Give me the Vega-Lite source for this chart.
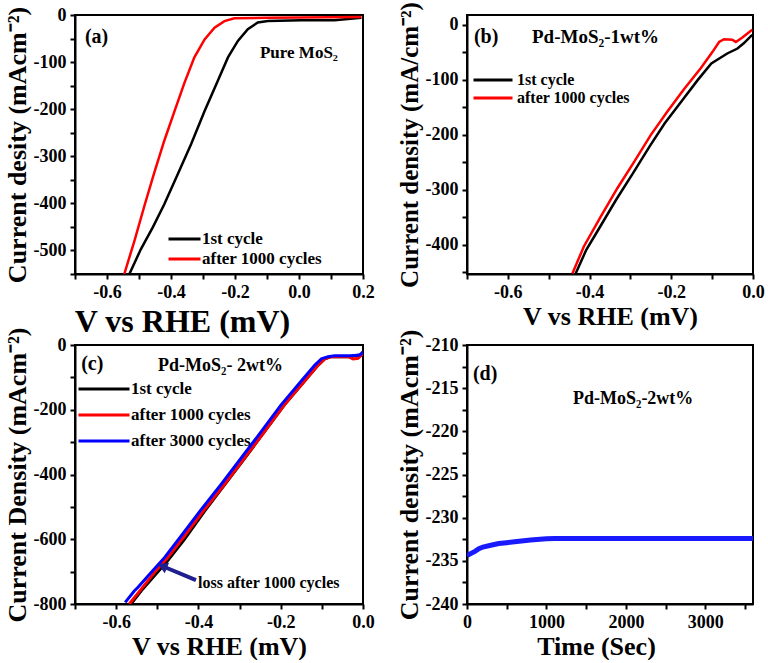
{
  "$schema": "https://vega.github.io/schema/vega-lite/v6.json",
  "background": "white",
  "padding": {"left": 3, "top": 0, "right": 5, "bottom": 0},
  "columns": 2,
  "spacing": {"row": 71, "column": 104},
  "bounds": "flush",
  "resolve": {"scale": {"color": "independent"}, "legend": {"color": "independent"}},
  "config": {
    "font": "Liberation Serif",
    "view": {"stroke": "black", "strokeWidth": 2},
    "axis": {
      "grid": false, "domainColor": "black", "domainWidth": 2,
      "tickColor": "black", "tickWidth": 2, "tickSize": 5,
      "labelFont": "Liberation Serif", "labelFontWeight": "bold", "labelFontSize": 18, "labelColor": "black",
      "labelPadding": 4, "labelFlush": false, "labelOverlap": false, "labelBound": false,
      "titleFont": "Liberation Serif", "titleFontWeight": "bold", "titleFontSize": 26, "titleColor": "black"
    },
    "legend": {
      "orient": "none", "title": null, "symbolType": "stroke", "symbolStrokeWidth": 3,
      "labelFont": "Liberation Serif", "labelFontWeight": "bold", "labelFontSize": 17, "labelColor": "black",
      "labelOffset": 0, "padding": 0, "rowPadding": 0
    },
    "text": {"font": "Liberation Serif", "fontWeight": "bold", "align": "left", "baseline": "middle", "color": "black"}
  },
  "concat": [
    {
      "width": 288, "height": 259,
      "encoding": {
        "x": {"field": "v", "type": "quantitative", "scale": {"domain": [-0.7, 0.2], "nice": false, "zero": false},
          "axis": {"title": "V vs RHE (mV)", "titleFontSize": 32, "titleX": 107, "titlePadding": 5, "labelOverlap": false,
            "values": [-0.7,-0.6,-0.5,-0.4,-0.3,-0.2,-0.1,0,0.1,0.2], "format": ".1f",
            "labelExpr": "abs(round(datum.value*10)) % 2 == 0 ? replace(datum.label, '−', '-') : ''"}},
        "y": {"field": "j", "type": "quantitative", "scale": {"domain": [-550, 0], "nice": false, "zero": false},
          "axis": {"title": "Current desity (mAcm⁻²)", "titlePadding": 3, "labelOverlap": false,
            "values": [0,-50,-100,-150,-200,-250,-300,-350,-400,-450,-500,-550],
            "labelExpr": "datum.value % 100 == 0 ? replace(datum.label, '−', '-') : ''"}}
      },
      "layer": [
        {
          "data": {"values": [
            {"series": "1st cycle", "v": -0.530, "j": -550},
            {"series": "1st cycle", "v": -0.494, "j": -497},
            {"series": "1st cycle", "v": -0.457, "j": -451},
            {"series": "1st cycle", "v": -0.421, "j": -402},
            {"series": "1st cycle", "v": -0.379, "j": -338},
            {"series": "1st cycle", "v": -0.337, "j": -274},
            {"series": "1st cycle", "v": -0.295, "j": -204},
            {"series": "1st cycle", "v": -0.254, "j": -140},
            {"series": "1st cycle", "v": -0.222, "j": -90},
            {"series": "1st cycle", "v": -0.191, "j": -55},
            {"series": "1st cycle", "v": -0.160, "j": -30},
            {"series": "1st cycle", "v": -0.129, "j": -16},
            {"series": "1st cycle", "v": -0.097, "j": -13},
            {"series": "1st cycle", "v": 0.007, "j": -11},
            {"series": "1st cycle", "v": 0.111, "j": -11},
            {"series": "1st cycle", "v": 0.195, "j": -6},
            {"series": "after 1000 cycles", "v": -0.546, "j": -550},
            {"series": "after 1000 cycles", "v": -0.514, "j": -479},
            {"series": "after 1000 cycles", "v": -0.483, "j": -405},
            {"series": "after 1000 cycles", "v": -0.452, "j": -334},
            {"series": "after 1000 cycles", "v": -0.421, "j": -267},
            {"series": "after 1000 cycles", "v": -0.389, "j": -204},
            {"series": "after 1000 cycles", "v": -0.358, "j": -144},
            {"series": "after 1000 cycles", "v": -0.327, "j": -90},
            {"series": "after 1000 cycles", "v": -0.295, "j": -52},
            {"series": "after 1000 cycles", "v": -0.264, "j": -27},
            {"series": "after 1000 cycles", "v": -0.233, "j": -13},
            {"series": "after 1000 cycles", "v": -0.202, "j": -7},
            {"series": "after 1000 cycles", "v": -0.097, "j": -6},
            {"series": "after 1000 cycles", "v": 0.195, "j": -4}
          ]},
          "mark": {"type": "line", "strokeWidth": 2.5, "clip": true},
          "encoding": {
            "color": {"field": "series", "type": "nominal", "scale": {"domain": ["1st cycle", "after 1000 cycles"], "range": ["#000000", "#ff0000"]},
              "legend": {"legendX": 92, "legendY": 214, "symbolSize": 1024, "clipHeight": 20}}
          }
        },
        {
          "data": {"values": [{"v": -0.669, "j": -47, "label": "(a)"}]},
          "mark": {"type": "text", "fontSize": 20},
          "encoding": {"text": {"field": "label"}}
        },
        {
          "data": {"values": [{"v": -0.122, "j": -81, "label": "Pure MoS₂"}]},
          "mark": {"type": "text", "fontSize": 17},
          "encoding": {"text": {"field": "label"}}
        }
      ]
    },
    {
      "width": 286, "height": 259,
      "encoding": {
        "x": {"field": "v", "type": "quantitative", "scale": {"domain": [-0.7, 0], "nice": false, "zero": false},
          "axis": {"title": "V vs RHE (mV)", "titlePadding": 2, "labelOverlap": false,
            "values": [-0.7,-0.6,-0.5,-0.4,-0.3,-0.2,-0.1,0], "format": ".1f",
            "labelExpr": "abs(round(datum.value*10)) % 2 == 0 ? replace(datum.label, '−', '-') : ''"}},
        "y": {"field": "j", "type": "quantitative", "scale": {"domain": [-453, 18], "nice": false, "zero": false},
          "axis": {"title": "Current density (mA/cm⁻²)", "titleFontSize": 25, "titlePadding": 3, "labelOverlap": false,
            "values": [0,-50,-100,-150,-200,-250,-300,-350,-400,-450],
            "labelExpr": "datum.value % 100 == 0 ? replace(datum.label, '−', '-') : ''"}}
      },
      "layer": [
        {
          "data": {"values": [
            {"series": "1st cycle", "v": -0.434, "j": -452},
            {"series": "1st cycle", "v": -0.408, "j": -409},
            {"series": "1st cycle", "v": -0.379, "j": -373},
            {"series": "1st cycle", "v": -0.335, "j": -318},
            {"series": "1st cycle", "v": -0.294, "j": -270},
            {"series": "1st cycle", "v": -0.253, "j": -221},
            {"series": "1st cycle", "v": -0.216, "j": -179},
            {"series": "1st cycle", "v": -0.173, "j": -137},
            {"series": "1st cycle", "v": -0.135, "j": -100},
            {"series": "1st cycle", "v": -0.102, "j": -70},
            {"series": "1st cycle", "v": -0.063, "j": -52},
            {"series": "1st cycle", "v": -0.038, "j": -43},
            {"series": "1st cycle", "v": -0.022, "j": -33},
            {"series": "1st cycle", "v": -0.002, "j": -18},
            {"series": "after 1000 cycles", "v": -0.442, "j": -452},
            {"series": "after 1000 cycles", "v": -0.414, "j": -403},
            {"series": "after 1000 cycles", "v": -0.373, "j": -349},
            {"series": "after 1000 cycles", "v": -0.332, "j": -297},
            {"series": "after 1000 cycles", "v": -0.291, "j": -249},
            {"series": "after 1000 cycles", "v": -0.250, "j": -200},
            {"series": "after 1000 cycles", "v": -0.210, "j": -158},
            {"series": "after 1000 cycles", "v": -0.169, "j": -117},
            {"series": "after 1000 cycles", "v": -0.128, "j": -79},
            {"series": "after 1000 cycles", "v": -0.099, "j": -49},
            {"series": "after 1000 cycles", "v": -0.083, "j": -31},
            {"series": "after 1000 cycles", "v": -0.071, "j": -26},
            {"series": "after 1000 cycles", "v": -0.051, "j": -27},
            {"series": "after 1000 cycles", "v": -0.042, "j": -31},
            {"series": "after 1000 cycles", "v": -0.026, "j": -23},
            {"series": "after 1000 cycles", "v": -0.002, "j": -9}
          ]},
          "mark": {"type": "line", "strokeWidth": 2.5, "clip": true},
          "encoding": {
            "color": {"field": "series", "type": "nominal", "scale": {"domain": ["1st cycle", "after 1000 cycles"], "range": ["#000000", "#ff0000"]},
              "legend": {"legendX": 5, "legendY": 56, "symbolSize": 1521, "clipHeight": 18, "labelFontSize": 16, "labelOffset": 3}}
          }
        },
        {
          "data": {"values": [{"v": -0.683, "j": -22, "label": "(b)"}]},
          "mark": {"type": "text", "fontSize": 20},
          "encoding": {"text": {"field": "label"}}
        },
        {
          "data": {"values": [{"v": -0.541, "j": -22, "label": "Pd-MoS₂-1wt%"}]},
          "mark": {"type": "text", "fontSize": 19},
          "encoding": {"text": {"field": "label"}}
        }
      ]
    },
    {
      "width": 288, "height": 259,
      "encoding": {
        "x": {"field": "v", "type": "quantitative", "scale": {"domain": [-0.7, 0], "nice": false, "zero": false},
          "axis": {"title": "V vs RHE (mV)", "titlePadding": 2, "labelOverlap": false,
            "values": [-0.7,-0.6,-0.5,-0.4,-0.3,-0.2,-0.1,0], "format": ".1f",
            "labelExpr": "abs(round(datum.value*10)) % 2 == 0 ? replace(datum.label, '−', '-') : ''"}},
        "y": {"field": "j", "type": "quantitative", "scale": {"domain": [-800, 0], "nice": false, "zero": false},
          "axis": {"title": "Current Density (mAcm⁻²)", "titlePadding": 3, "labelOverlap": false,
            "values": [0,-100,-200,-300,-400,-500,-600,-700,-800],
            "labelExpr": "datum.value % 200 == 0 ? replace(datum.label, '−', '-') : ''"}}
      },
      "layer": [
        {
          "data": {"values": [
            {"series": "1st cycle", "v": -0.564, "j": -800},
            {"series": "1st cycle", "v": -0.539, "j": -759},
            {"series": "1st cycle", "v": -0.507, "j": -713},
            {"series": "1st cycle", "v": -0.474, "j": -665},
            {"series": "1st cycle", "v": -0.434, "j": -600},
            {"series": "1st cycle", "v": -0.385, "j": -513},
            {"series": "1st cycle", "v": -0.337, "j": -433},
            {"series": "1st cycle", "v": -0.288, "j": -351},
            {"series": "1st cycle", "v": -0.239, "j": -267},
            {"series": "1st cycle", "v": -0.191, "j": -185},
            {"series": "1st cycle", "v": -0.142, "j": -111},
            {"series": "1st cycle", "v": -0.109, "j": -62},
            {"series": "1st cycle", "v": -0.093, "j": -43},
            {"series": "1st cycle", "v": -0.077, "j": -36},
            {"series": "1st cycle", "v": -0.036, "j": -36},
            {"series": "1st cycle", "v": 0.0, "j": -29},
            {"series": "after 1000 cycles", "v": -0.568, "j": -800},
            {"series": "after 1000 cycles", "v": -0.539, "j": -754},
            {"series": "after 1000 cycles", "v": -0.507, "j": -703},
            {"series": "after 1000 cycles", "v": -0.474, "j": -656},
            {"series": "after 1000 cycles", "v": -0.434, "j": -590},
            {"series": "after 1000 cycles", "v": -0.385, "j": -508},
            {"series": "after 1000 cycles", "v": -0.337, "j": -431},
            {"series": "after 1000 cycles", "v": -0.288, "j": -349},
            {"series": "after 1000 cycles", "v": -0.239, "j": -267},
            {"series": "after 1000 cycles", "v": -0.191, "j": -185},
            {"series": "after 1000 cycles", "v": -0.142, "j": -111},
            {"series": "after 1000 cycles", "v": -0.109, "j": -62},
            {"series": "after 1000 cycles", "v": -0.093, "j": -43},
            {"series": "after 1000 cycles", "v": -0.077, "j": -36},
            {"series": "after 1000 cycles", "v": -0.036, "j": -36},
            {"series": "after 1000 cycles", "v": -0.024, "j": -43},
            {"series": "after 1000 cycles", "v": -0.012, "j": -41},
            {"series": "after 1000 cycles", "v": 0.0, "j": -26},
            {"series": "after 3000 cycles", "v": -0.578, "j": -795},
            {"series": "after 3000 cycles", "v": -0.556, "j": -760},
            {"series": "after 3000 cycles", "v": -0.548, "j": -750},
            {"series": "after 3000 cycles", "v": -0.515, "j": -703},
            {"series": "after 3000 cycles", "v": -0.482, "j": -656},
            {"series": "after 3000 cycles", "v": -0.442, "j": -590},
            {"series": "after 3000 cycles", "v": -0.393, "j": -508},
            {"series": "after 3000 cycles", "v": -0.345, "j": -431},
            {"series": "after 3000 cycles", "v": -0.296, "j": -349},
            {"series": "after 3000 cycles", "v": -0.247, "j": -267},
            {"series": "after 3000 cycles", "v": -0.199, "j": -185},
            {"series": "after 3000 cycles", "v": -0.150, "j": -111},
            {"series": "after 3000 cycles", "v": -0.117, "j": -62},
            {"series": "after 3000 cycles", "v": -0.101, "j": -43},
            {"series": "after 3000 cycles", "v": -0.085, "j": -36},
            {"series": "after 3000 cycles", "v": -0.069, "j": -33},
            {"series": "after 3000 cycles", "v": -0.028, "j": -33},
            {"series": "after 3000 cycles", "v": -0.008, "j": -31},
            {"series": "after 3000 cycles", "v": 0.0, "j": -21}
          ]},
          "mark": {"type": "line", "strokeWidth": 3, "clip": true},
          "encoding": {
            "color": {"field": "series", "type": "nominal", "scale": {"domain": ["1st cycle", "after 1000 cycles", "after 3000 cycles"], "range": ["#000000", "#ff0000", "#0000ff"]},
              "legend": {"legendX": 2, "legendY": 31, "symbolSize": 2601, "clipHeight": 26}}
          }
        },
        {
          "data": {"values": [{"v": -0.406, "j": -726, "v2": -0.484, "j2": -685}]},
          "mark": {"type": "rule", "strokeWidth": 4, "color": "#1f1f8f"},
          "encoding": {"x2": {"field": "v2"}, "y2": {"field": "j2"}}
        },
        {
          "data": {"values": [{"v": -0.484, "j": -685}]},
          "mark": {"type": "point", "shape": "triangle", "filled": true, "size": 130, "angle": 292, "color": "#1f1f8f", "opacity": 1},
          "encoding": {}
        },
        {
          "data": {"values": [{"v": -0.685, "j": -59, "label": "(c)"}]},
          "mark": {"type": "text", "fontSize": 20},
          "encoding": {"text": {"field": "label"}}
        },
        {
          "data": {"values": [{"v": -0.498, "j": -65, "label": "Pd-MoS₂- 2wt%"}]},
          "mark": {"type": "text", "fontSize": 18},
          "encoding": {"text": {"field": "label"}}
        },
        {
          "data": {"values": [{"v": -0.401, "j": -735, "label": "loss after 1000 cycles"}]},
          "mark": {"type": "text", "fontSize": 16},
          "encoding": {"text": {"field": "label"}}
        }
      ]
    },
    {
      "width": 286, "height": 259,
      "encoding": {
        "x": {"field": "t", "type": "quantitative", "scale": {"domain": [0, 3600], "nice": false},
          "axis": {"title": "Time (Sec)", "titleX": 129, "titlePadding": 2, "labelOverlap": false,
            "values": [0,500,1000,1500,2000,2500,3000,3500], "format": "d",
            "labelExpr": "datum.value % 1000 == 0 ? datum.label : ''"}},
        "y": {"field": "j", "type": "quantitative", "scale": {"domain": [-240, -210], "nice": false, "zero": false},
          "axis": {"title": "Current density (mAcm⁻²)", "titlePadding": 3, "labelOverlap": false,
            "values": [-210,-212.5,-215,-217.5,-220,-222.5,-225,-227.5,-230,-232.5,-235,-237.5,-240],
            "labelExpr": "datum.value % 5 == 0 ? replace(datum.label, '−', '-') : ''"}}
      },
      "layer": [
        {
          "data": {"values": [
            {"t": 0, "j": -234.4},
            {"t": 40, "j": -234.2},
            {"t": 100, "j": -233.9},
            {"t": 150, "j": -233.6},
            {"t": 200, "j": -233.4},
            {"t": 300, "j": -233.2},
            {"t": 400, "j": -233.0},
            {"t": 500, "j": -232.9},
            {"t": 600, "j": -232.8},
            {"t": 800, "j": -232.6},
            {"t": 1000, "j": -232.45},
            {"t": 1100, "j": -232.4},
            {"t": 2000, "j": -232.4},
            {"t": 3000, "j": -232.4},
            {"t": 3600, "j": -232.4}
          ]},
          "mark": {"type": "line", "strokeWidth": 5, "color": "#1a1aff", "clip": true}
        },
        {
          "data": {"values": [{"t": 75, "j": -213.4, "label": "(d)"}]},
          "mark": {"type": "text", "fontSize": 20},
          "encoding": {"text": {"field": "label"}}
        },
        {
          "data": {"values": [{"t": 1334, "j": -216.2, "label": "Pd-MoS₂-2wt%"}]},
          "mark": {"type": "text", "fontSize": 18},
          "encoding": {"text": {"field": "label"}}
        }
      ]
    }
  ]
}
